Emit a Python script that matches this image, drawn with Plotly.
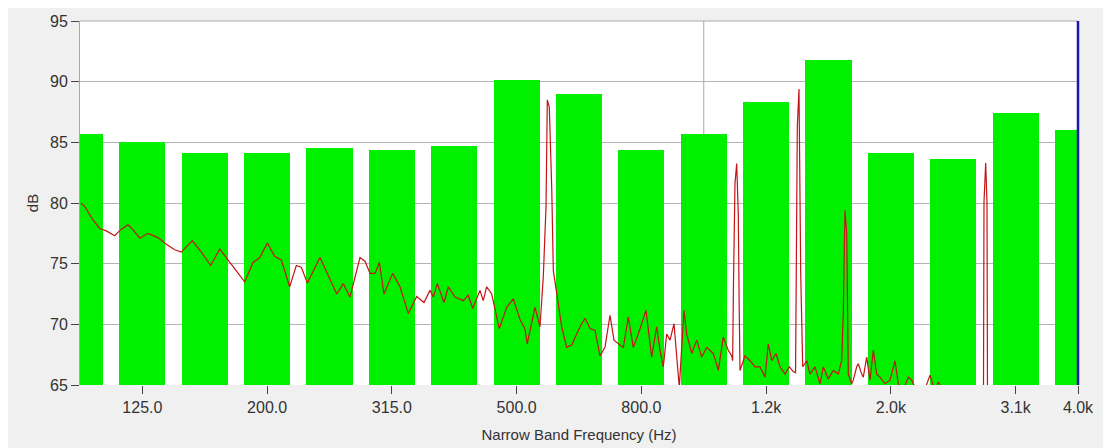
import numpy as np
import plotly.graph_objects as go

# 1/3-octave band levels (green bars)
band_freqs = [100, 125, 160, 200, 250, 315, 400, 500, 630, 800, 1000,
              1250, 1600, 2000, 2500, 3150, 4000]
band_levels = [85.7, 85.0, 84.1, 84.1, 84.5, 84.4, 84.7, 90.1, 89.0, 84.4,
               85.7, 88.35, 91.8, 84.1, 83.6, 87.45, 86.0]

tick_freqs = [125, 200, 315, 500, 800, 1250, 2000, 3150, 4000]
tick_labels = ["125.0", "200.0", "315.0", "500.0", "800.0", "1.2k", "2.0k", "3.1k", "4.0k"]

# narrow band spectrum (red line)
spec_freq = [99.5, 101.0, 104.1, 106.7, 109.4, 112.8, 115.4, 118.5, 120.7, 123.8,
             127.6, 132.4, 136.6, 140.9, 144.4, 150.4, 155.5, 161.0, 166.5, 172.7,
             178.1, 182.6, 188.3, 193.1, 198.6, 204.1, 209.1, 215.7, 221.1, 225.2,
             230.3, 241.3, 256.8, 263.1, 269.7, 279.9, 285.1, 290.5, 295.9, 300.7,
             305.9, 315.9, 324.6, 334.7, 345.3, 354.8, 362.8, 367.2, 372.7, 382.1,
             388.2, 398.0, 410.4, 418.0, 424.9, 436.6, 441.9, 447.5, 455.9, 468.9,
             482.0, 493.9, 506.3, 515.8, 520.0, 535.2, 545.2, 551.9, 557.5, 560.2,
             564.3, 569.4, 572.8, 580.0, 590.8, 601.9, 613.2, 632.3, 644.1, 656.1,
             668.4, 680.9, 693.6, 706.6, 717.1, 733.3, 742.3, 756.2, 770.3, 784.7,
             807.4, 824.7, 840.0, 850.4, 860.9, 871.8, 882.5, 895.7, 906.7, 913.4,
             929.4, 938.8, 956.4, 974.2, 992.4, 1011.0, 1036.0, 1055.4, 1075.1, 1095.2,
             1109.1, 1113.0, 1116.5, 1122.7, 1129.8, 1136.5, 1140.0, 1143.7, 1165.1, 1186.9,
             1209.1, 1231.7, 1254.7, 1270.1, 1286.2, 1306.9, 1326.4, 1351.2, 1372.9, 1393.3,
             1405.0, 1408.5, 1414.2, 1423.1, 1429.0, 1432.1, 1442.7, 1464.3, 1482.3, 1510.0,
             1538.2, 1557.1, 1586.2, 1615.9, 1646.1, 1666.9, 1676.8, 1687.4, 1698.1, 1703.0,
             1708.2, 1729.8, 1740.1, 1762.2, 1772.7, 1795.1, 1805.8, 1828.7, 1851.2, 1873.9,
             1897.7, 1921.0, 1956.9, 1993.5, 2030.7, 2055.7, 2091.8, 2133.3, 2160.3, 2186.9,
             2244.3, 2311.9, 2355.1, 2384.0, 2489.6, 2681.1, 2818.0, 2823.8, 2841.7, 2855.4,
             2861.0, 3226.8, 4000.0]
spec_db = [80.0, 79.7, 78.6, 77.9, 77.7, 77.3, 77.8, 78.2, 77.8, 77.1,
           77.5, 77.15, 76.6, 76.15, 75.95, 76.9, 75.95, 74.85, 76.2, 75.1,
           74.2, 73.5, 75.1, 75.5, 76.7, 75.6, 75.3, 73.1, 74.85, 74.7,
           73.4, 75.5, 72.5, 73.35, 72.25, 75.5, 75.2, 74.2, 74.2, 75.1,
           72.5, 74.2, 73.1, 70.9, 72.3, 71.8, 72.8, 72.25, 73.35, 71.8,
           73.1, 72.25, 71.95, 72.4, 71.3, 72.8, 71.95, 73.1, 72.5, 69.65,
           71.4, 72.1, 70.4, 69.6, 68.4, 71.4, 69.8, 73.9, 79.7, 88.5,
           87.9, 81.3, 74.45, 72.5, 69.8, 68.1, 68.3, 69.8, 70.5, 69.65,
           69.5, 67.4, 68.1, 70.75, 68.7, 68.3, 68.1, 70.6, 68.1, 69.2,
           71.15, 67.3, 69.8, 67.85, 66.5, 69.2, 68.7, 70.05, 67.0, 64.8,
           71.15, 69.2, 67.6, 68.7, 67.3, 68.1, 67.6, 66.2, 68.95, 67.85,
           67.4, 67.0, 73.5, 81.6, 83.25, 79.1, 72.0, 66.2, 67.4, 67.0,
           66.5, 66.5, 65.65, 68.4, 67.0, 67.6, 66.5, 65.9, 66.5, 66.1,
           66.0, 74.2, 86.3, 89.4, 80.0, 74.2, 66.5, 67.0, 65.9, 66.5,
           65.1, 66.5, 65.5, 66.2, 65.9, 67.0, 70.9, 79.4, 77.5, 70.0,
           65.9, 65.1, 65.4, 66.5, 66.75, 65.9, 65.65, 67.3, 65.4, 67.85,
           65.9, 65.65, 65.1, 65.4, 67.0, 65.1, 64.5, 65.65, 65.4, 64.8,
           64.0, 65.8, 64.5, 65.25, 63.5, 63.0, 63.0, 80.1, 83.3, 80.0,
           63.0, 62.5, 62.0]

cursor_freq = 1000
marker_freq = 4000

band_pos = list(range(len(band_freqs)))


def freq_to_pos(f):
    # position on the 1/3-octave band axis (band 1000 Hz -> index 10)
    return 10 + 3 * np.log2(np.asarray(f, dtype=float) / 1000.0)


tick_pos = [band_freqs.index(f) for f in tick_freqs]

fig = go.Figure()
fig.add_trace(go.Bar(
    x=band_pos, y=band_levels, width=0.74,
    marker=dict(color="#00f000", line=dict(width=0)),
    hoverinfo="skip", showlegend=False,
))
fig.add_trace(go.Scatter(
    x=freq_to_pos(spec_freq), y=spec_db, mode="lines",
    line=dict(color="#c41414", width=1.2),
    hoverinfo="skip", showlegend=False,
))

font_family = "Liberation Sans, Arial, sans-serif"
n_last = len(band_freqs) - 1

fig.update_layout(
    width=1103, height=448,
    margin=dict(l=80, r=25, t=21, b=63, pad=0),
    paper_bgcolor="#f0f0f0",
    plot_bgcolor="#ffffff",
    font=dict(family=font_family, size=16, color="#333333"),
    bargap=0,
    xaxis=dict(
        range=[0, n_last], automargin=False,
        tickmode="array", tickvals=tick_pos, ticktext=tick_labels,
        ticks="outside", ticklen=8, tickcolor="#444444", tickwidth=1,
        showgrid=False, zeroline=False, showline=False,
        tickfont=dict(size=16, color="#333333"),
        title=dict(text="Narrow Band Frequency (Hz)", font=dict(size=15, color="#333333"),
                   standoff=14),
    ),
    yaxis=dict(
        range=[65, 95], dtick=5, tick0=65, automargin=False,
        ticks="outside", ticklen=8, tickcolor="#444444", tickwidth=1,
        showgrid=True, gridcolor="#b4b4b4", gridwidth=1,
        zeroline=False, showline=True, linecolor="#a8a8a8", linewidth=1,
        tickfont=dict(size=16, color="#333333"),
        title=dict(text="dB", font=dict(size=15, color="#333333"), standoff=7),
    ),
    shapes=[
        # white strips at top and left of the panel
        dict(type="rect", xref="paper", yref="paper", x0=-0.2, x1=1.2,
             y0=(385 - 8) / 364.0, y1=1.2, fillcolor="#ffffff", line=dict(width=0), layer="above"),
        dict(type="rect", xref="paper", yref="paper", x0=-0.2, x1=-(80 - 8) / 998.0,
             y0=-0.3, y1=1.2, fillcolor="#ffffff", line=dict(width=0), layer="above"),
        # top border
        dict(type="line", xref="paper", yref="paper", x0=0, x1=1, y0=1, y1=1,
             line=dict(color="#a8a8a8", width=1)),
        # cursor line
        dict(type="line", xref="x", yref="paper", x0=band_freqs.index(cursor_freq),
             x1=band_freqs.index(cursor_freq), y0=0, y1=1,
             line=dict(color="#a8a8a8", width=1), layer="below"),
        # blue marker line at right edge
        dict(type="line", xref="paper", yref="paper",
             x0=band_freqs.index(marker_freq) / n_last,
             x1=band_freqs.index(marker_freq) / n_last,
             y0=0, y1=1, line=dict(color="#1818b0", width=2.5)),
    ],
)

fig.write_html("out.html")
